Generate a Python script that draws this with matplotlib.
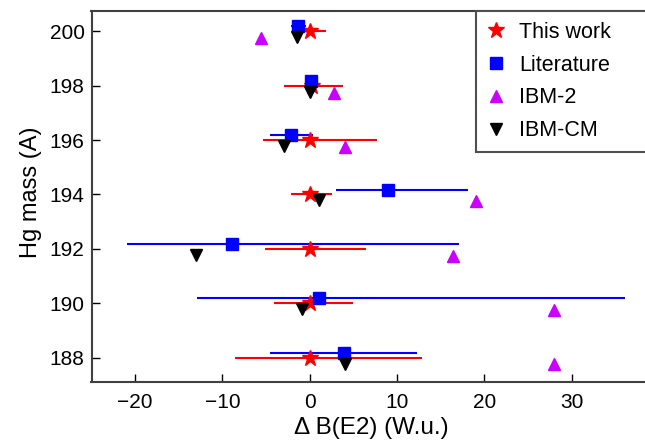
import matplotlib
matplotlib.use('Agg')
import matplotlib.pyplot as plt
import numpy as np

plt.rcParams['font.family'] = ['Liberation Sans', 'DejaVu Sans']

mass = np.array([200, 198, 196, 194, 192, 190, 188])

# This work
tw_x = [0, 0.3, 0, 0, 0, 0, 0]
tw_lo = [1.5, 3.2, 5.3, 2.2, 5.1, 4.1, 8.6]
tw_hi = [1.9, 3.5, 7.7, 2.6, 6.5, 5.0, 12.9]

# Literature
lit_x = [-1.3, 0.1, -2.1, 9.0, -8.9, 1.1, 3.9]
lit_lo = [0.9, 0.3, 2.5, 6.0, 12.0, 14.0, 8.5]
lit_hi = [0.9, 0.3, 2.5, 9.1, 26.0, 35.0, 8.4]

ibm2_x = [-5.6, 2.8, 4.0, 19.0, 16.4, 28.0, 28.0]
ibmcm_x = [-1.5, 0.0, -2.9, 1.1, -13.0, -0.9, 4.0]

fig = plt.figure(figsize=(6.45, 4.41), dpi=100)
# axes run past the right edge of the picture, as in the original
ax = fig.add_axes([91.5 / 645, 59 / 441, 559.5 / 645, 371 / 441])

ax.errorbar(tw_x, mass, xerr=[tw_lo, tw_hi], fmt='none', ecolor='red', elinewidth=1.5)
ax.errorbar(lit_x, mass + 0.18, xerr=[lit_lo, lit_hi], fmt='none', ecolor='blue', elinewidth=1.5)
ax.plot(tw_x, mass, '*', color='red', ms=12, label='This work')
ax.plot(lit_x, mass + 0.18, 's', color='blue', ms=8.5, label='Literature')
ax.plot(ibm2_x, mass - 0.25, '^', color='#cc00ff', ms=8.5, label='IBM-2')
ax.plot(ibmcm_x, mass - 0.22, 'v', color='black', ms=8.5, label='IBM-CM')

ax.set_xlim(-25, 39.1)
ax.set_ylim(187.1, 200.75)
ax.set_xticks([-20, -10, 0, 10, 20, 30])
ax.set_xticklabels(['\u221220', '\u221210', '0', '10', '20', '30'])
ax.set_yticks([188, 190, 192, 194, 196, 198, 200])
ax.tick_params(direction='in', labelsize=15, length=6, width=1)
ax.tick_params(axis='x', pad=8)
ax.tick_params(axis='y', pad=5)
for s in ax.spines.values():
    s.set_linewidth(1.5)
    s.set_color('#404040')
ax.spines['right'].set_visible(False)

ax.set_xlabel('\u0394 B(E2) (W.u.)', fontsize=17.5)
ax.set_ylabel('Hg mass (A)', fontsize=17)
ax.xaxis.set_label_coords(0.5, -0.095)
ax.yaxis.set_label_coords(-0.088, 0.512)

x0 = (476 - 91.5) / 559.5
leg = ax.legend(loc='upper left', bbox_to_anchor=(x0, 0, 1.05 - x0, 1), mode='expand',
                fontsize=15.5, frameon=True, fancybox=False,
                borderaxespad=0, handletextpad=0.6, labelspacing=0.55,
                handlelength=0.9, borderpad=0.5)
leg.get_frame().set_edgecolor('#505050')
leg.get_frame().set_linewidth(1.5)
leg.get_frame().set_alpha(1)

fig.savefig('out.png', dpi=100)
